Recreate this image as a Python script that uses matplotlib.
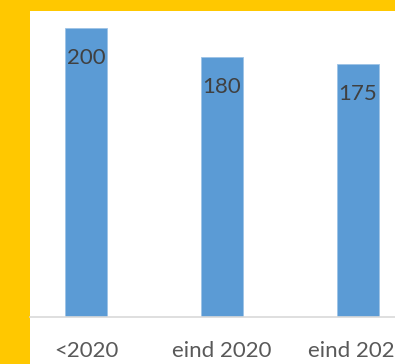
import matplotlib.pyplot as plt
from matplotlib.patches import Rectangle

# Data
categories = ['<2020', 'eind 2020', 'eind 2021']
values = [200, 180, 175]

W, H = 395, 364
fig = plt.figure(figsize=(W / 100, H / 100), dpi=100, facecolor='#FFC800')

# white chart area on yellow background
fig.patches.append(Rectangle((30 / W, 0), 1, 1 - 11 / H, transform=fig.transFigure,
                             facecolor='white', edgecolor='none', zorder=-1))

# axes geometry (pixels): baseline at y=317, left at x=30, category spacing 136px
x0 = -0.412
x1 = 2.5
ax = fig.add_axes([30 / W, (H - 317) / H, (x1 - x0) * 136 / W, (317 - 11) / H])
ax.set_zorder(1)
ax.set_facecolor('none')
ax.set_xlim(x0, x1)
ax.set_ylim(0, 306 / 1.445)

xs = range(len(categories))
ax.bar(xs, values, width=42 / 136, color='#5B9BD5', edgecolor='#9DC3E6', linewidth=0.6)

for x, v in zip(xs, values):
    ax.annotate(str(v), (x, v), xytext=(0, -21.6), textcoords='offset points',
                ha='center', va='center', fontsize=16, color='#404040', family='Lato')

ax.set_xticks(list(xs))
ax.set_xticklabels(categories, fontsize=16, color='#595959', family='Lato')
ax.tick_params(axis='x', length=0, pad=17.5)
ax.set_yticks([])
for s in ['left', 'right', 'top']:
    ax.spines[s].set_visible(False)
ax.spines['bottom'].set_color('#D9D9D9')
ax.spines['bottom'].set_linewidth(1.2)

fig.savefig('out.png', dpi=100, facecolor=fig.get_facecolor())
